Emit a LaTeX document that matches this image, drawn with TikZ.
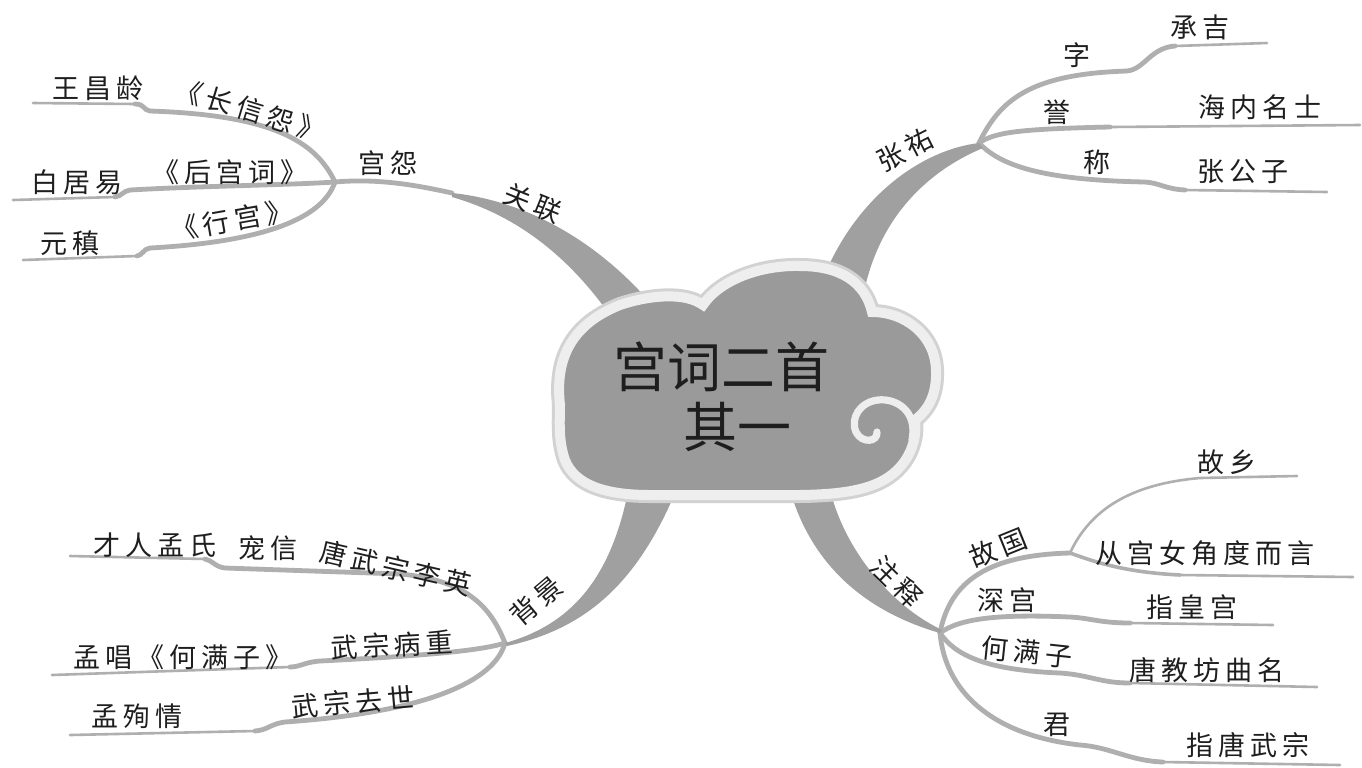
\documentclass[tikz,border=0pt]{standalone}
\usepackage{fontspec}
\newfontfamily\cjk[LetterSpace=18]{Noto Sans CJK SC}
\newfontfamily\cjktitle{Noto Sans CJK SC}
\definecolor{lineg}{HTML}{AFAFAF}
\definecolor{limbg}{HTML}{A0A0A0}
\definecolor{cloudf}{HTML}{9A9A9A}
\definecolor{cloude}{HTML}{EEEEEE}
\definecolor{glow}{HTML}{D2D2D2}
\definecolor{txt}{HTML}{1E1E1E}
\begin{document}
\begin{tikzpicture}[x=0.5pt,y=-0.5pt,
  lbl/.style={font=\cjk\fontsize{13.5}{14}\selectfont, inner sep=0pt, text=txt},
  ttl/.style={font=\cjktitle\fontsize{27}{30}\selectfont, inner sep=0pt, text=txt},
  twig/.style={draw=lineg, line width=1.3pt, line cap=round},
  twigmid/.style={draw=lineg, line width=1.8pt, line cap=round},
  twigin/.style={draw=lineg, line width=2.4pt, line cap=round},
  limb/.style={fill=limbg}]
\fill[white] (0,0) rectangle (1362,767);
\useasboundingbox (0,0) rectangle (1362,767);

% ---------- coordinates ----------
\coordinate (J1) at (335,182);
\coordinate (G1) at (452,193);
\coordinate (a1) at (150,111); \coordinate (a1s) at (135,104); \coordinate (a1e) at (33,103);
\coordinate (a2) at (130,190); \coordinate (a2s) at (115,197); \coordinate (a2e) at (13,200);
\coordinate (a3) at (150,248); \coordinate (a3s) at (137,256); \coordinate (a3e) at (23,260);

\coordinate (J2) at (979,143);
\coordinate (b1) at (1127,71); \coordinate (b1s) at (1175,46); \coordinate (b1e) at (1267,43);
\coordinate (b2) at (1110,127); \coordinate (b2e) at (1360,125);
\coordinate (b3) at (1145,182); \coordinate (b3s) at (1185,190); \coordinate (b3e) at (1327,192);

\coordinate (J3) at (940,633);
\coordinate (J4) at (1070,553);
\coordinate (c1) at (1200,478); \coordinate (c1e) at (1297,476);
\coordinate (c2) at (1180,575); \coordinate (c2e) at (1353,577);
\coordinate (c3) at (1070,617); \coordinate (c3s) at (1130,623); \coordinate (c3e) at (1273,625);
\coordinate (c4) at (1060,673); \coordinate (c4s) at (1130,683); \coordinate (c4e) at (1317,687);
\coordinate (c5) at (1080,745); \coordinate (c5s) at (1163,762); \coordinate (c5e) at (1340,765);

\coordinate (J5) at (505,643);
\coordinate (d1) at (400,574); \coordinate (d1s) at (225,568); \coordinate (d1t) at (205,559); \coordinate (d1e) at (70,556);
\coordinate (d2) at (320,661); \coordinate (d2s) at (290,667); \coordinate (d2e) at (52,675);
\coordinate (d3) at (285,722); \coordinate (d3s) at (255,731); \coordinate (d3e) at (70,735);

% ---------- thin branches ----------
% top-left
\draw[twigin] (J1) .. controls (315,140) and (270,115) .. (a1) .. controls (143,110) and (145,104) .. (a1s);
\draw[twig] (a1s) -- (a1e);
\draw[twigin] (J1) .. controls (290,185) and (200,186) .. (a2) .. controls (123,191) and (122,196) .. (a2s);
\draw[twig] (a2s) -- (a2e);
\draw[twigin] (J1) .. controls (322,220) and (260,242) .. (a3) .. controls (143,249) and (143,255) .. (a3s);
\draw[twig] (a3s) -- (a3e);
\draw[twigin] (J1) .. controls (380,178) and (420,186) .. (G1);
% top-right
\draw[twigin] (J2) .. controls (1000,100) and (1030,74) .. (b1) .. controls (1145,69) and (1150,48) .. (b1s);
\draw[twig] (b1s) -- (b1e);
\draw[twigin] (J2) .. controls (995,132) and (1020,129) .. (b2);
\draw[twig] (b2) -- (b2e);
\draw[twigin] (J2) .. controls (1000,165) and (1040,180) .. (b3) .. controls (1160,183) and (1165,189) .. (b3s);
\draw[twig] (b3s) -- (b3e);
% bottom-right
\draw[twigin] (J3) .. controls (950,580) and (990,555) .. (J4);
\draw[twig] (J4) .. controls (1090,510) and (1130,484) .. (c1) -- (c1e);
\draw[twigmid] (J4) .. controls (1090,560) and (1120,572) .. (c2);
\draw[twig] (c2) -- (c2e);
\draw[twigin] (J3) .. controls (960,618) and (1000,614) .. (c3) .. controls (1090,618) and (1100,623) .. (c3s);
\draw[twig] (c3s) -- (c3e);
\draw[twigin] (J3) .. controls (955,655) and (985,670) .. (c4) .. controls (1090,675) and (1100,683) .. (c4s);
\draw[twig] (c4s) -- (c4e);
\draw[twigin] (J3) .. controls (945,690) and (990,735) .. (c5) .. controls (1110,747) and (1130,761) .. (c5s);
\draw[twig] (c5s) -- (c5e);
% bottom-left
\draw[twigin] (J5) .. controls (490,605) and (465,580) .. (d1) -- (d1s) .. controls (215,567) and (212,560) .. (d1t);
\draw[twig] (d1t) -- (d1e);
\draw[twigin] (J5) .. controls (480,651) and (420,656) .. (d2) .. controls (305,662) and (300,667) .. (d2s);
\draw[twig] (d2s) -- (d2e);
\draw[twigin] (J5) .. controls (495,680) and (430,712) .. (d3) .. controls (270,724) and (268,730) .. (d3s);
\draw[twig] (d3s) -- (d3e);

% ---------- thick limbs ----------
\fill[limb] (G1) .. controls (520,200) and (590,235) .. (648,300) -- (612,318) .. controls (575,265) and (525,218) .. (452,197) -- cycle;
\fill[limb] (J2) .. controls (920,150) and (850,200) .. (818,292) -- (864,292) .. controls (880,215) and (930,170) .. (983,148) -- cycle;
\fill[limb] (790,490) .. controls (810,560) and (860,610) .. (J3) -- (942,630) .. controls (890,605) and (845,550) .. (830,490) -- cycle;
\fill[limb] (628,492) .. controls (610,580) and (570,625) .. (J5) -- (507,646) .. controls (580,630) and (632,590) .. (672,500) -- cycle;

% ---------- cloud ----------
\def\cloudpath{(560,405)
 .. controls (555,360) and (570,325) .. (620,305)
 .. controls (650,295) and (685,292) .. (703,305)
 .. controls (720,280) and (760,265) .. (800,266)
 .. controls (840,266) and (865,282) .. (872,312)
 .. controls (905,312) and (935,335) .. (936,370)
 .. controls (937,395) and (928,410) .. (915,420)
 .. controls (918,445) and (905,470) .. (880,482)
 .. controls (850,497) and (800,495) .. (760,495)
 -- (650,495)
 .. controls (605,495) and (575,485) .. (565,460)
 .. controls (558,440) and (560,420) .. (560,405) -- cycle}
\draw[draw=glow, line width=8pt] \cloudpath;
\filldraw[fill=cloudf, draw=cloude, line width=5pt] \cloudpath;
\draw[draw=cloude, line width=3.6pt, line cap=round]
  (912,440) .. controls (918,410) and (895,398) .. (878,400)
  .. controls (860,402) and (850,418) .. (856,432)
  .. controls (862,444) and (878,442) .. (877,432);

\node[ttl] (title1) at (721,367) {宫词二首};
\node[ttl] (title2) at (737,427) {其一};

% ---------- labels ----------
\node[lbl] (tgy) at (388,163) {宫怨};
\node[lbl] (twcl) at (98,88) {王昌龄};
\node[lbl, rotate=-17] (tcxy) at (250,110) {《长信怨》};
\node[lbl] (tbjy) at (77,182) {白居易};
\node[lbl] (thgc) at (230,172) {《后宫词》};
\node[lbl] (tyz) at (70,243) {元稹};
\node[lbl, rotate=10] (txg) at (232,220) {《行宫》};
\node[lbl, rotate=-22] (tgl) at (533,203) {关联};

\node[lbl, rotate=27] (tzy) at (905,150) {张祐};
\node[lbl] (tzi) at (1077,55) {字};
\node[lbl] (tcj) at (1200,27) {承吉};
\node[lbl] (tyu) at (1057,112) {誉};
\node[lbl] (thn) at (1260,107) {海内名士};
\node[lbl] (tch) at (1097,162) {称};
\node[lbl] (tzgz) at (1243,172) {张公子};

\node[lbl, rotate=-45] (tzs) at (897,582) {注释};
\node[lbl, rotate=22] (tgg) at (998,548) {故国};
\node[lbl] (tsg) at (1007,600) {深宫};
\node[lbl, rotate=-6] (thmz) at (1027,652) {何满子};
\node[lbl] (tjun) at (1057,725) {君};
\node[lbl] (tgx) at (1227,462) {故乡};
\node[lbl] (tcgn) at (1205,553) {从宫女角度而言};
\node[lbl] (tzhg) at (1192,607) {指皇宫};
\node[lbl] (tjf) at (1207,670) {唐教坊曲名};
\node[lbl] (tzt) at (1248,745) {指唐武宗};

\node[lbl, rotate=40] (tbj) at (536,601) {背景};
\node[lbl] (tcr) at (155,545) {才人孟氏};
\node[lbl] (tcx) at (268,548) {宠信};
\node[lbl, rotate=-13] (tts) at (396,568) {唐武宗李英};
\node[lbl] (tmc) at (183,657) {孟唱《何满子》};
\node[lbl, rotate=3] (tbz) at (392,645) {武宗病重};
\node[lbl] (tmx) at (137,716) {孟殉情};
\node[lbl, rotate=5] (tqs) at (353,702) {武宗去世};
\end{tikzpicture}
\end{document}
